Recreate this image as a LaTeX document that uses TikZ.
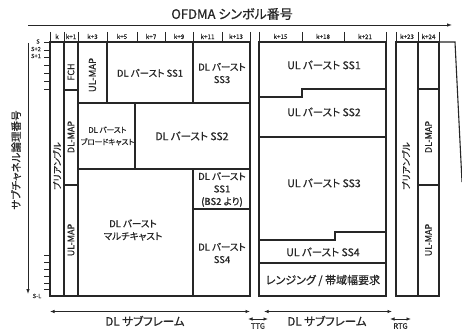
\documentclass[tikz,border=0pt]{standalone}
\usepackage{fontspec}
\setmainfont{Noto Sans CJK JP}[RawFeature={+palt;embolden=0.6}]
\usetikzlibrary{arrows.meta}
\tikzset{
  frame/.style={line width=1.1pt},
  hdr/.style={font=\fontsize{6.3}{7}\selectfont, inner sep=0pt},
  tickln/.style={line width=0.7pt},
  dltxt/.style={font=\fontsize{9.5}{12.5}\selectfont, align=center, inner sep=0pt},
  ultxt/.style={font=\fontsize{10.5}{12}\selectfont, align=center, inner sep=0pt},
  rottxt/.style={font=\fontsize{9}{10}\selectfont, rotate=90, inner sep=0pt},
  axlbl/.style={font=\fontsize{5.8}{6}\selectfont, inner sep=0pt},
  arr/.style={line width=0.8pt, -{Latex[length=5pt,width=3.5pt]}},
  darr/.style={line width=0.8pt, {Latex[length=4.5pt,width=3.5pt]}-{Latex[length=4.5pt,width=3.5pt]}},
}
\begin{document}
\begin{tikzpicture}[x=1pt,y=-1pt, color=black!85]
\useasboundingbox[fill=white] (0,0) rectangle (462,331);

% title and top axis
\node[font=\fontsize{13}{15}\selectfont, inner sep=0pt] (title) at (232,14) {OFDMA シンボル番号};
\coordinate (tA) at (28,25);
\coordinate (tB) at (452,25);
\draw[arr] (tA) -- (tB);

% header ticks
\foreach \x in {50,64,78,107,137,165,193,222,250, 259,302,344,386, 396,418,439}
  \draw[tickln] (\x,32) -- (\x,42);
\foreach \x/\t in {57/k, 71/k+1, 92.5/k+3, 122/k+5, 151/k+7, 179/k+9, 207.5/k+11, 236/k+13,
                   280.5/k+15, 323/k+18, 365/k+21, 407/k+23, 428.5/k+24}
  \node[hdr] at (\x,36.5) {\t};

% left axis
\coordinate (lA) at (28,43);
\coordinate (lB) at (28,294);
\draw[arr] (lA) -- (lB);
\node[font=\fontsize{10.5}{12}\selectfont, rotate=90, inner sep=0pt] (ylab) at (16,160) {サブチャネル論理番号};
\foreach \y in {42,50,57,65,73,81,89, 255,262,269,276,283,289}
  \draw[tickln] (44,\y) -- (50,\y);
\node[axlbl] (s0) at (38,41.5) {S};
\node[axlbl] (s2) at (36,49) {S+2};
\node[axlbl] (s1) at (36,56) {S+1};
\node[axlbl] (sl) at (37,296) {S-L};

% DL subframe
\draw[frame] (50,42) rectangle (250,296);
\draw[frame] (64,42) -- (64,296);
\draw[frame] (78,42) -- (78,296);
\draw[frame] (64,90) -- (78,90);
\draw[frame] (64,185) -- (78,185);
\draw[frame] (78,103) -- (250,103);
\draw[frame] (107,42) -- (107,103);
\draw[frame] (193,42) -- (193,103);
\draw[frame] (135,103) -- (135,169);
\draw[frame] (78,169) -- (250,169);
\draw[frame] (193,169) -- (193,296);
\draw[frame] (193,209) -- (250,209);

\node[rottxt] (pre1) at (57,166) {プリアンブル};
\node[rottxt] (fch) at (71,72) {FCH};
\node[rottxt] (dlmap1) at (71,137) {DL-MAP};
\node[rottxt] (ulmap1) at (71,240) {UL-MAP};
\node[rottxt, font=\fontsize{9.5}{10}\selectfont] (ulmap0) at (92.5,75) {UL-MAP};
\node[dltxt] (dss1) at (150,73) {DL バースト SS1};
\node[dltxt] (dss3) at (222,73) {DL バースト\\SS3};
\node[dltxt, font=\fontsize{7.6}{12}\selectfont] (dbc) at (107.5,136) {DL バースト\\ブロードキャスト};
\node[dltxt, font=\fontsize{10.5}{12}\selectfont] (dss2) at (192,136) {DL バースト SS2};
\node[dltxt] (dss1b) at (222,189.5) {DL バースト\\SS1\\(BS2 より)};
\node[dltxt] (dmc) at (133,230) {DL バースト\\マルチキャスト};
\node[dltxt] (dss4) at (222,253) {DL バースト\\SS4};

% UL subframe
\draw[frame] (259,42) rectangle (386,296);
\draw[frame] (259,97) -- (302,97) -- (302,89) -- (386,89);
\draw[frame] (259,137) -- (386,137);
\draw[frame] (259,240) -- (335,240) -- (335,232) -- (386,232);
\draw[frame] (259,263) -- (386,263);
\node[ultxt] (uss1) at (324,65) {UL バースト SS1};
\node[ultxt] (uss2) at (324,112) {UL バースト SS2};
\node[ultxt] (uss3) at (324,183) {UL バースト SS3};
\node[ultxt] (uss4) at (323,252) {UL バースト SS4};
\node[ultxt, font=\fontsize{11}{12}\selectfont] (rng) at (323,280.5) {レンジング / 帯域幅要求};

% next frame
\draw[frame] (396,42) rectangle (439,296);
\draw[frame] (418,42) -- (418,296);
\draw[frame] (418,89) -- (439,89);
\draw[frame] (418,185) -- (439,185);
\draw[frame] (439,42) -- (455,42) -- (462,182);
\node[rottxt] (pre2) at (406,166) {プリアンブル};
\node[rottxt] (dlmap2) at (428.5,137) {DL-MAP};
\node[rottxt] (ulmap2) at (428.5,240) {UL-MAP};

% bottom arrows
\coordinate (d1a) at (50,311.5);
\coordinate (d1b) at (250,311.5);
\draw[darr] (d1a) -- (d1b);
\node[font=\fontsize{11.5}{12}\selectfont, inner sep=0pt] (dsub1) at (145,321) {DL サブフレーム};
\coordinate (d2a) at (264,311.5);
\coordinate (d2b) at (392,311.5);
\draw[darr] (d2a) -- (d2b);
\node[font=\fontsize{11.5}{12}\selectfont, inner sep=0pt] (dsub2) at (327,321) {DL サブフレーム};
\coordinate (t1a) at (248,319);
\coordinate (t1b) at (268,319);
\draw[darr] (t1a) -- (t1b);
\node[font=\fontsize{7.5}{8}\selectfont, inner sep=0pt] (ttg) at (258,326) {TTG};
\coordinate (r1a) at (390,319);
\coordinate (r1b) at (411,319);
\draw[darr] (r1a) -- (r1b);
\node[font=\fontsize{7.5}{8}\selectfont, inner sep=0pt] (rtg) at (400.5,326) {RTG};
\end{tikzpicture}
\end{document}
